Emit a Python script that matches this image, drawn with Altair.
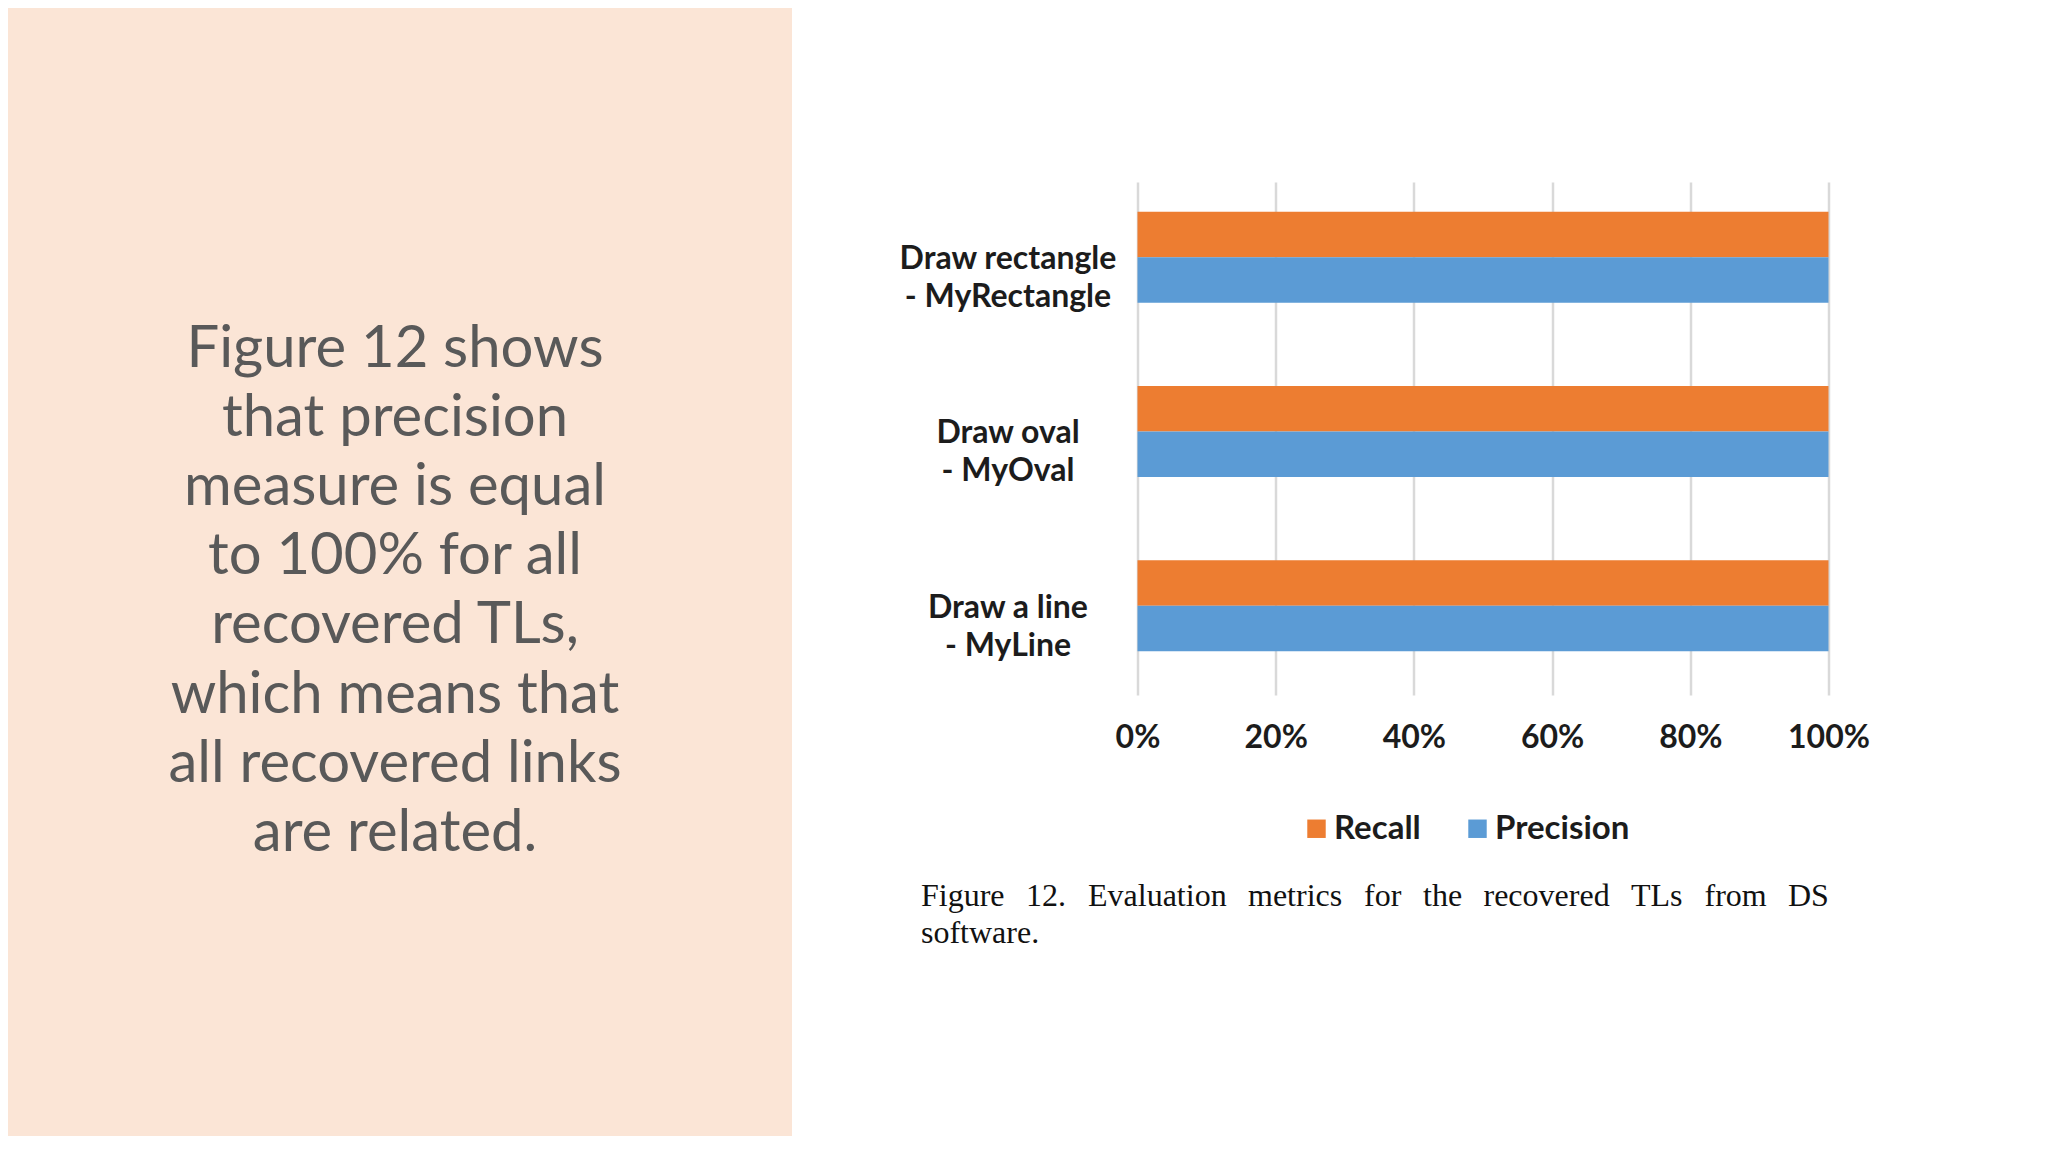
import altair as alt
import pandas as pd

# ---------------- data ----------------
categories = ["Draw rectangle - MyRectangle", "Draw oval - MyOval", "Draw a line - MyLine"]
metrics = ["Recall", "Precision"]
recall = [1.0, 1.0, 1.0]
precision = [1.0, 1.0, 1.0]
x_ticks = [0, 0.2, 0.4, 0.6, 0.8, 1.0]

slide_text = [
    "Figure 12 shows",
    "that precision",
    "measure is equal",
    "to 100% for all",
    "recovered TLs,",
    "which means that",
    "all recovered links",
    "are related.",
]
caption_line1 = ["Figure", "12.", "Evaluation", "metrics", "for", "the",
                 "recovered", "TLs", "from", "DS"]
caption_line2 = "software."

rows = []
for c, r, p in zip(categories, recall, precision):
    rows.append({"task": c, "metric": "Recall", "value": r})
    rows.append({"task": c, "metric": "Precision", "value": p})
df = pd.DataFrame(rows)

# ---------------- layout (page pixels) ----------------
PAD_L, PAD_T = 1129.5, 174
W, H = 691, 513
TOTAL_W, TOTAL_H = 2030, 1128
OX, OY = 8 + PAD_L, 8 + PAD_T


def px(x):
    return x - OX


def py(y):
    return y - OY


AX_FONT = "Lato, sans-serif"
LABEL_COLOR = "#1c1c1c"

bars = alt.Chart(df).mark_bar().encode(
    x=alt.X(
        "value:Q",
        scale=alt.Scale(domain=[0, 1], nice=False, zero=True),
        axis=alt.Axis(
            values=x_ticks, format=".0%", title=None, grid=True,
            gridColor="#D9D9D9", gridWidth=2.5, domain=False, ticks=False,
            labelFont=AX_FONT, labelFontSize=32, labelFontWeight="bold",
            labelColor=LABEL_COLOR, labelPadding=42, labelBaseline="middle",
            labelFlush=False,
        ),
    ),
    y=alt.Y(
        "task:N",
        sort=categories,
        scale=alt.Scale(paddingInner=0.478, paddingOuter=0.211, align=0.404),
        axis=alt.Axis(
            title=None, domain=False, ticks=False, grid=False,
            labelAlign="center", labelPadding=130, labelOffset=2,
            labelFont=AX_FONT, labelFontSize=32, labelFontWeight="bold",
            labelColor=LABEL_COLOR, labelLineHeight=38, labelLimit=0,
            labelExpr="[split(datum.label, ' - ')[0], '- ' + split(datum.label, ' - ')[1]]",
        ),
    ),
    yOffset=alt.YOffset("metric:N", sort=metrics,
                        scale=alt.Scale(paddingInner=0, paddingOuter=0)),
    color=alt.Color(
        "metric:N",
        scale=alt.Scale(domain=metrics, range=["#ED7D31", "#5B9BD5"]),
        legend=alt.Legend(
            title=None, orient="none", legendX=1300 - OX, legendY=812 - OY,
            direction="horizontal", symbolType="square", symbolSize=340,
            symbolStrokeWidth=0, labelFont=AX_FONT, labelFontSize=33,
            labelFontWeight="bold", labelColor=LABEL_COLOR, columnPadding=40,
            labelOffset=1, padding=0,
        ),
    ),
)

one = alt.Data(values=[{}])

peach = alt.Chart(one).mark_rect(color="#FBE5D6").encode(
    x=alt.value(px(0)), x2=alt.value(px(792)),
    y=alt.value(py(0)), y2=alt.value(py(1152)),
)

left_text = alt.Chart(one).mark_text(
    font="Lato", fontWeight=400, fontSize=58, color="#595959",
    align="center", baseline="alphabetic", lineHeight=69.2,
).encode(
    x=alt.value(px(395)), y=alt.value(py(366.7)), text=alt.value(slide_text)
)

# justified first caption line (word start positions, page pixels)
caption_x = [921, 1026, 1088, 1248, 1364, 1423, 1483.5, 1631, 1704.5, 1788]
CAP_FONT = "Liberation Serif, Times New Roman, serif"
cap_layers = []
for word, xpos in zip(caption_line1, caption_x):
    cap_layers.append(
        alt.Chart(one).mark_text(
            font=CAP_FONT, fontSize=32, color="#111111",
            align="left", baseline="alphabetic",
        ).encode(x=alt.value(px(xpos)), y=alt.value(py(906)), text=alt.value(word))
    )
cap_layers.append(
    alt.Chart(one).mark_text(
        font=CAP_FONT, fontSize=32, color="#111111",
        align="left", baseline="alphabetic",
    ).encode(x=alt.value(px(921)), y=alt.value(py(943)), text=alt.value(caption_line2))
)

chart = alt.layer(peach, left_text, bars, *cap_layers).properties(
    width=W, height=H,
    autosize=alt.AutoSizeParams(type="none"),
    padding={"left": PAD_L, "top": PAD_T,
             "right": TOTAL_W - PAD_L - W, "bottom": TOTAL_H - PAD_T - H},
    background="white",
).configure_view(strokeWidth=0)

chart.save("out.html", embed_options={"renderer": "svg", "actions": False})
